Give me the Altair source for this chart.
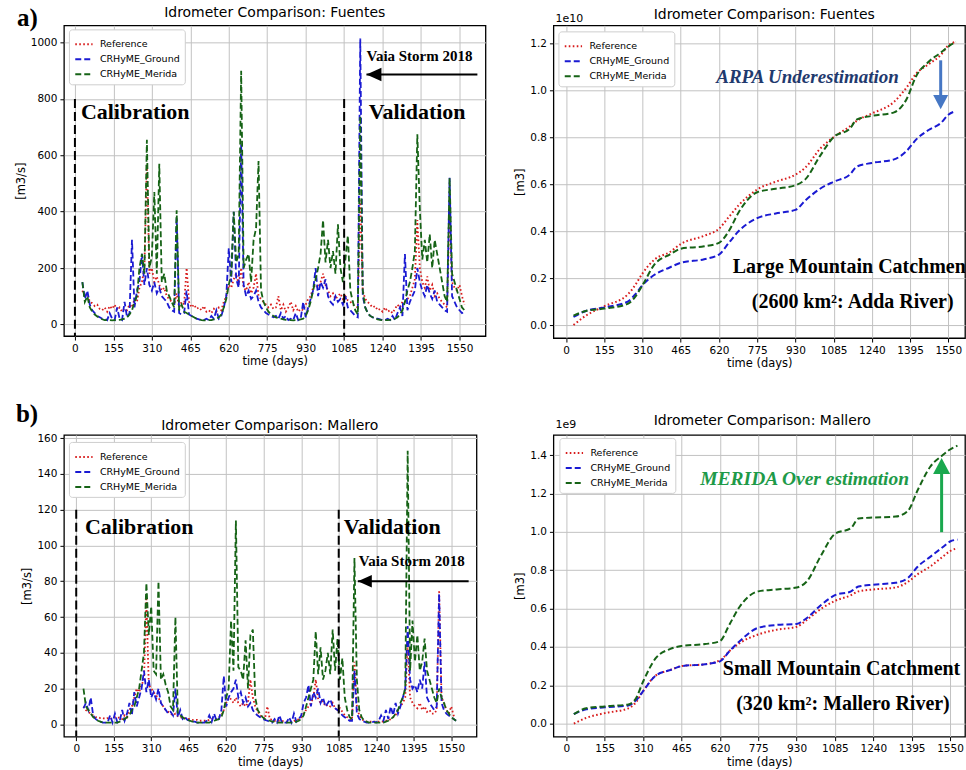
import altair as alt
import pandas as pd

# ---------------- data ----------------
SERIES = ["Reference", "CRHyME_Ground", "CRHyME_Merida"]
SERIES_COLORS = ["#d81c1c", "#1a1ad2", "#166316"]
SERIES_DASH = [[1.6, 2.4], [6, 3], [6, 3]]
X_TICKS = [0, 155, 310, 465, 620, 775, 930, 1085, 1240, 1395, 1550]

hydro_days = list(range(30, 1571, 10))

fuentes_ref = [
    120, 100, 110, 80, 75, 65, 70, 55, 50, 60,
    45, 65, 55, 70, 50, 60, 45, 55, 50, 70,
    60, 90, 80, 130, 150, 200, 570, 180, 200, 150,
    170, 140, 120, 130, 100, 90, 80, 70, 110, 60,
    80, 70, 200, 80, 60, 70, 55, 60, 50, 65,
    45, 50, 40, 55, 45, 60, 50, 80, 100, 140,
    130, 160, 180, 140, 200, 130, 120, 150, 110, 130,
    180, 100, 90, 80, 70, 60, 70, 55, 60, 100,
    50, 70, 45, 60, 80, 50, 65, 45, 55, 50,
    70, 90, 100, 130, 140, 130, 150, 180, 140, 120,
    100, 110, 90, 100, 110, 90, 100, 85, 80, 70,
    65, 60, 440, 120, 90, 80, 70, 60, 65, 50,
    55, 45, 60, 45, 50, 40, 55, 70, 60, 80,
    80, 90, 100, 130, 160, 370, 200, 150, 130, 170,
    120, 140, 100, 110, 90, 80, 70, 60, 420, 150,
    130, 120, 140, 100, 70,
]
fuentes_ground = [
    150, 90, 120, 70, 50, 40, 30, 25, 20, 20,
    15, 40, 20, 15, 60, 20, 15, 80, 25, 40,
    300, 60, 120, 150, 250, 140, 200, 140, 120, 150,
    110, 130, 100, 90, 80, 60, 50, 45, 380, 40,
    35, 40, 120, 35, 30, 25, 20, 18, 15, 15,
    20, 15, 30, 20, 50, 20, 30, 60, 100, 270,
    150, 400, 160, 130, 640, 140, 100, 120, 90, 100,
    120, 80, 60, 50, 40, 35, 30, 25, 30, 20,
    40, 20, 30, 15, 20, 15, 40, 15, 20, 80,
    25, 60, 90, 120, 200, 100, 150, 130, 160, 100,
    80, 70, 100, 80, 90, 70, 100, 60, 50, 40,
    30, 25, 1015, 100, 60, 40, 30, 25, 20, 20,
    18, 15, 15, 20, 15, 30, 15, 40, 60, 30,
    250, 50, 80, 100, 120, 200, 150, 120, 100, 140,
    110, 90, 120, 80, 70, 60, 50, 45, 520, 100,
    80, 60, 50, 40, 45,
]
fuentes_merida = [
    150, 80, 100, 60, 45, 35, 28, 22, 18, 15,
    15, 15, 14, 15, 15, 16, 18, 20, 25, 35,
    50, 80, 100, 200, 250, 180, 655, 200, 240, 470,
    180, 570, 150, 180, 120, 100, 80, 60, 405, 50,
    70, 45, 40, 35, 30, 25, 20, 18, 15, 14,
    14, 15, 15, 18, 20, 25, 35, 60, 90, 140,
    180, 400, 220, 250, 900, 200, 230, 250, 150, 300,
    340, 580, 120, 80, 60, 45, 35, 30, 25, 22,
    20, 18, 16, 15, 15, 14, 15, 16, 18, 20,
    30, 50, 80, 120, 160, 200, 250, 370, 220, 300,
    200, 260, 180, 355, 200, 150, 230, 315, 120, 80,
    50, 35, 740, 120, 60, 40, 30, 25, 20, 18,
    16, 15, 15, 15, 16, 18, 20, 25, 35, 50,
    80, 120, 150, 200, 260, 675, 410, 230, 300, 220,
    320, 200, 300, 250, 200, 150, 100, 80, 520, 180,
    150, 120, 90, 60, 50,
]

mallero_ref = [
    10, 8, 7, 6, 5, 4, 4, 3.5, 3.5, 3,
    3.5, 3, 3.5, 4, 3.5, 4, 3, 5, 4, 8,
    10, 15, 20, 18, 22, 25, 70, 22, 20, 18,
    16, 15, 12, 10, 8, 7, 6, 5, 6, 4.5,
    4, 3.5, 3.5, 3, 3, 2.5, 2.5, 2.5, 2, 2,
    2, 2, 2.5, 3, 3, 3, 4, 5, 8, 12,
    15, 14, 12, 15, 12, 10, 12, 10, 12, 25,
    15, 10, 7, 5, 4, 3, 10, 3, 2.5, 2,
    2, 2, 2, 1.5, 1.5, 1.5, 1.5, 2, 2, 3,
    4, 6, 8, 10, 12, 15, 25, 14, 12, 13,
    10, 11, 10, 12, 9, 8, 9, 7, 5, 4,
    3, 2.5, 35, 10, 5, 3, 2, 1.5, 1.5, 1.5,
    1.5, 1.5, 1.5, 1.5, 1.5, 2, 2, 3, 4, 5,
    8, 10, 12, 15, 45, 15, 12, 10, 9, 12,
    8, 10, 7, 8, 6, 6, 8, 75, 15, 12,
    8, 6, 10, 5, 4,
]
mallero_ground = [
    9, 12, 8, 15, 5, 3, 2, 1.5, 1, 1,
    1, 5, 1, 6, 1, 2, 8, 2, 6, 12,
    5, 18, 10, 15, 20, 30, 18, 25, 15, 18,
    14, 20, 12, 10, 8, 6, 7, 5, 20, 4,
    8, 3, 4, 2.5, 2, 1.5, 1.5, 1, 1, 1,
    1, 2, 5, 1.5, 6, 2, 3, 8, 27, 10,
    15, 18, 20, 25, 15, 18, 12, 15, 10, 12,
    8, 6, 5, 4, 3, 2.5, 2, 1.5, 1, 3,
    1, 5, 1, 1, 1, 4, 1, 6, 1.5, 3,
    5, 12, 15, 22, 10, 18, 15, 20, 12, 15,
    10, 12, 14, 10, 9, 8, 7, 5, 4, 3,
    2, 2, 30, 6, 3, 2, 1.5, 1, 1, 1,
    1.5, 1, 2, 5, 2, 8, 3, 10, 5, 12,
    6, 10, 15, 20, 55, 25, 20, 22, 18, 25,
    20, 35, 15, 12, 10, 8, 10, 73, 12, 8,
    6, 5, 4, 3, 2,
]
mallero_merida = [
    20, 10, 8, 6, 4, 3, 2, 1.5, 1, 1,
    1, 1, 1, 1, 1, 1.5, 2, 3, 4, 5,
    8, 10, 15, 20, 30, 40, 79, 50, 66, 30,
    28, 80, 25, 28, 22, 18, 10, 8, 60, 6,
    5, 4, 3, 2.5, 2, 1.5, 1.5, 1, 1, 1,
    1, 1, 1, 1.5, 2, 2.5, 3, 4, 8, 15,
    20, 58, 30, 114, 32, 30, 25, 47, 20, 50,
    53, 15, 8, 6, 4, 3, 2.5, 2, 1.5, 1.5,
    1, 1, 1, 1, 1, 1, 1, 1, 1.5, 2,
    3, 5, 10, 15, 20, 25, 52, 28, 43, 25,
    30, 40, 28, 53, 30, 48, 25, 37, 15, 8,
    4, 3, 93, 25, 8, 4, 2, 1.5, 1, 1,
    1, 1, 1, 1, 1, 1.5, 2, 3, 4, 6,
    8, 12, 15, 20, 153, 30, 58, 35, 50, 30,
    35, 48, 30, 25, 20, 15, 12, 20, 15, 12,
    8, 6, 4, 3, 2,
]

cum_days = [30, 80, 155, 250, 280, 310, 360, 420, 465, 560, 620, 660, 700, 775,
            850, 930, 970, 1030, 1085, 1150, 1180, 1240, 1330, 1380, 1420, 1470,
            1520, 1550, 1580]
# Fuentes cumulative volume, units of 1e10 m3
fuentes_cum_ref = [0.0, 0.04, 0.08, 0.13, 0.17, 0.22, 0.28, 0.31, 0.345, 0.38,
                   0.41, 0.46, 0.51, 0.577, 0.61, 0.64, 0.67, 0.75, 0.80, 0.845,
                   0.87, 0.90, 0.95, 1.01, 1.07, 1.11, 1.15, 1.19, 1.205]
fuentes_cum_ground = [0.035, 0.06, 0.075, 0.10, 0.13, 0.17, 0.215, 0.245, 0.265, 0.28,
                      0.30, 0.35, 0.40, 0.455, 0.475, 0.49, 0.53, 0.58, 0.61, 0.64,
                      0.675, 0.69, 0.705, 0.74, 0.79, 0.83, 0.86, 0.895, 0.91]
fuentes_cum_merida = [0.04, 0.06, 0.07, 0.09, 0.12, 0.17, 0.26, 0.30, 0.325, 0.335,
                      0.35, 0.40, 0.48, 0.565, 0.58, 0.595, 0.62, 0.72, 0.80, 0.835,
                      0.875, 0.89, 0.905, 0.96, 1.06, 1.12, 1.16, 1.185, 1.205]
# Mallero cumulative volume, units of 1e9 m3
mallero_cum_ref = [0.0, 0.03, 0.055, 0.08, 0.11, 0.17, 0.25, 0.28, 0.30, 0.31,
                   0.33, 0.38, 0.42, 0.465, 0.49, 0.505, 0.54, 0.60, 0.64, 0.67,
                   0.69, 0.70, 0.71, 0.74, 0.78, 0.82, 0.87, 0.90, 0.915]
mallero_cum_ground = [0.05, 0.075, 0.085, 0.095, 0.12, 0.17, 0.25, 0.28, 0.30, 0.31,
                      0.325, 0.38, 0.43, 0.50, 0.515, 0.52, 0.55, 0.62, 0.67, 0.69,
                      0.715, 0.725, 0.735, 0.76, 0.82, 0.87, 0.92, 0.95, 0.96]
mallero_cum_merida = [0.05, 0.08, 0.09, 0.10, 0.13, 0.22, 0.34, 0.39, 0.405, 0.415,
                      0.43, 0.52, 0.61, 0.69, 0.70, 0.71, 0.74, 0.88, 0.99, 1.02,
                      1.07, 1.075, 1.08, 1.11, 1.22, 1.34, 1.40, 1.43, 1.45]

FONT = "DejaVu Sans"
SERIF = "Liberation Serif"


def long_table(days, ref, ground, merida):
    rows = []
    for name, vals in zip(SERIES, (ref, ground, merida)):
        assert len(vals) == len(days), (name, len(vals), len(days))
        for d, v in zip(days, vals):
            rows.append({"day": d, "value": v, "series": name})
    return pd.DataFrame(rows)


def one_row(**kw):
    return pd.DataFrame({k: [v] for k, v in kw.items()})


class Ctx:
    def __init__(self, xs, ys, xa, ya, w, h):
        self.xs, self.ys, self.xa, self.ya, self.w, self.h = xs, ys, xa, ya, w, h

    def X(self, field):
        return alt.X(field, scale=self.xs, axis=self.xa)

    def Y(self, field):
        return alt.Y(field, scale=self.ys, axis=self.ya)


def make_panel(df, w, h, xdom, ydom, yticks, yfmt, ytitle, legxy, stroke_w,
               interp, title, title_xy, extra):
    xs = alt.Scale(domain=xdom, nice=False, zero=False)
    ys = alt.Scale(domain=ydom, nice=False, zero=False)
    xaxis = alt.Axis(values=X_TICKS, format="d", title="time (days)", labelOverlap=False,
                     labelFlush=False, titlePadding=2)
    yaxis = alt.Axis(values=yticks, format=yfmt, title=ytitle, labelOverlap=False,
                     labelFlush=False, titlePadding=4)
    ctx = Ctx(xs, ys, xaxis, yaxis, w, h)
    legend = alt.Legend(title=None, orient="none", legendX=legxy[0], legendY=legxy[1],
                        fillColor="white", strokeColor="#cfcfcf", padding=5,
                        cornerRadius=3, labelFont=FONT, labelFontSize=9.5,
                        labelColor="black", symbolType="stroke",
                        symbolStrokeWidth=2, symbolSize=300, rowPadding=0,
                        labelOffset=6, symbolOffset=0)
    layers = []
    for name in SERIES:
        layers.append(
            alt.Chart(df)
            .transform_filter(alt.datum.series == name)
            .mark_line(strokeWidth=stroke_w, interpolate=interp)
            .encode(
                x=ctx.X("day:Q"),
                y=ctx.Y("value:Q"),
                color=alt.Color("series:N", scale=alt.Scale(domain=SERIES, range=SERIES_COLORS),
                                legend=legend),
                strokeDash=alt.StrokeDash("series:N",
                                          scale=alt.Scale(domain=SERIES, range=SERIES_DASH),
                                          legend=legend),
            )
        )
    layers.append(
        alt.Chart(one_row(label=title))
        .mark_text(align="center", baseline="alphabetic", font=FONT, fontSize=14,
                   color="black")
        .encode(x=alt.value(title_xy[0]), y=alt.value(title_xy[1]), text="label:N")
    )
    for maker in extra:
        layers.append(maker(ctx))
    return alt.layer(*layers).properties(width=w, height=h)


# ---------- annotation helpers ----------
def vlines(days, top):
    def f(c):
        d = pd.DataFrame({"day": days, "value": [top] * len(days)})
        return alt.Chart(d).mark_rule(color="black", strokeWidth=2, strokeDash=[9, 4]).encode(
            x=c.X("day:Q"), y=c.Y("value:Q"), y2=alt.value(c.h))
    return f


def texts(day_list, value_list, labels, size, color="black", italic=False, clip=False):
    def f(c):
        d = pd.DataFrame({"day": day_list, "value": value_list, "label": labels})
        return alt.Chart(d).mark_text(
            align="left", baseline="alphabetic", font=SERIF, fontWeight="bold",
            fontStyle="italic" if italic else "normal", fontSize=size, color=color,
            clip=clip,
        ).encode(x=c.X("day:Q"), y=c.Y("value:Q"), text="label:N")
    return f


def pixel_text(label, px, py, size, font, weight="normal"):
    def f(c):
        return alt.Chart(one_row(label=label)).mark_text(
            align="left", baseline="alphabetic", font=font, fontWeight=weight,
            fontSize=size, color="black",
        ).encode(x=alt.value(px), y=alt.value(py), text="label:N")
    return f


def h_arrow(x_from, x_tip, yv, head_size, color="black"):
    def f(c):
        d = pd.DataFrame({"day": [x_from], "day2": [x_tip], "value": [yv]})
        shaft = alt.Chart(d).mark_rule(color=color, strokeWidth=2).encode(
            x=c.X("day:Q"), x2="day2:Q", y=c.Y("value:Q"))
        head = alt.Chart(d).mark_point(
            shape="M 0 0 L 2 -0.9 L 2 0.9 Z", filled=True, size=head_size,
            color=color, opacity=1, strokeWidth=0,
        ).encode(x=c.X("day2:Q"), y=c.Y("value:Q"))
        return alt.layer(shaft, head)
    return f


def v_arrow(xv, y_from, y_base, y_tip, head_size, color, up):
    def f(c):
        d = pd.DataFrame({"day": [xv], "value": [y_from], "value2": [y_base], "tip": [y_tip]})
        shaft = alt.Chart(d).mark_rule(color=color, strokeWidth=3).encode(
            x=c.X("day:Q"), y=c.Y("value:Q"), y2="value2:Q")
        path = "M 0 0 L -1 1.9 L 1 1.9 Z" if up else "M 0 0 L -1 -1.9 L 1 -1.9 Z"
        head = alt.Chart(d).mark_point(
            shape=path, filled=True, size=head_size, color=color, opacity=1, strokeWidth=0,
        ).encode(x=c.X("day:Q"), y=c.Y("tip:Q"))
        return alt.layer(shaft, head)
    return f


def anchor(px, py, py2):
    # invisible mark that fixes the outer extent of a row of panels
    def f(c):
        return alt.Chart(one_row(label="")).mark_rule(strokeOpacity=0, opacity=0).encode(
            x=alt.value(px), y=alt.value(py), y2=alt.value(py2))
    return f


# ---------- panels ----------
H_A, H_B, H_C, H_D = 311, 313, 302, 302
BOTTOM_PAD = 45
TOP_PAD_ROW2 = 50

panel_a = make_panel(
    long_table(hydro_days, fuentes_ref, fuentes_ground, fuentes_merida),
    422, H_A, [-44.3, 1654.7], [-41.5, 1061.3], [0, 200, 400, 600, 800, 1000], "d",
    "[m3/s]", (5, 4), 1.8, "linear", "Idrometer Comparison: Fuentes", (211, -8),
    [
        anchor(-63, -24, H_A + BOTTOM_PAD),
        vlines([0, 1085], 800),
        texts([24, 1184], [728, 728], ["Calibration", "Validation"], 22),
        texts([1175], [934], ["Vaia Storm 2018"], 15),
        h_arrow(1622, 1175, 887, 225),
        pixel_text("a)", -47, 1, 25, SERIF, "bold"),
    ],
)

panel_b = make_panel(
    long_table(cum_days, fuentes_cum_ref, fuentes_cum_ground, fuentes_cum_merida),
    412, H_B, [-51.4, 1617.6], [-0.0553, 1.2752], [0, 0.2, 0.4, 0.6, 0.8, 1.0, 1.2], ".1f",
    "[m3]", (5, 6), 2, "monotone", "Idrometer Comparison: Fuentes", (211, -6),
    [
        pixel_text("1e10", 2, -3, 11, FONT),
        texts([609], [1.03], ["ARPA Underestimation"], 19, color="#1f3a6e", italic=True),
        v_arrow(1519, 1.1265, 0.976, 0.918, 225, "#4677c4", False),
        texts([676, 753], [0.221, 0.0735],
              ["Large Mountain Catchment", "(2600 km\u00b2: Adda River)"], 20, clip=True),
    ],
)

panel_c = make_panel(
    long_table(hydro_days, mallero_ref, mallero_ground, mallero_merida),
    413, H_C, [-50.8, 1654.5], [-6.87, 161.8], [0, 20, 40, 60, 80, 100, 120, 140, 160], "d",
    "[m3/s]", (5, 7), 1.8, "linear", "Idrometer Comparison: Mallero", (206, -5),
    [
        anchor(-63, -TOP_PAD_ROW2, -TOP_PAD_ROW2 + 1),
        vlines([0, 1085], 120),
        texts([36, 1106], [106.5, 106.5], ["Calibration", "Validation"], 22),
        texts([1168], [88.8], ["Vaia Storm 2018"], 15),
        h_arrow(1622, 1164, 80, 196),
        pixel_text("b)", -48, -13, 25, SERIF, "bold"),
    ],
)

panel_d = make_panel(
    long_table(cum_days, mallero_cum_ref, mallero_cum_ground, mallero_cum_merida),
    412, H_D, [-52.5, 1610.5], [-0.0677, 1.5058], [0, 0.2, 0.4, 0.6, 0.8, 1.0, 1.2, 1.4],
    ".1f", "[m3]", (6, 3), 2, "monotone", "Idrometer Comparison: Mallero", (209, -10),
    [
        pixel_text("1e9", 2, -7, 11, FONT),
        texts([541], [1.247], ["MERIDA Over estimation"], 19.5, color="#1e9a48", italic=True),
        v_arrow(1516, 0.9988, 1.3025, 1.386, 289, "#1aa84e", True),
        texts([632, 686], [0.2517, 0.0714],
              ["Small Mountain Catchment", "(320 km\u00b2: Mallero River)"], 20, clip=True),
    ],
)

IND = dict(color="independent", strokeDash="independent", x="independent", y="independent")

row1 = alt.hconcat(panel_a, panel_b, spacing=68, bounds="flush").resolve_scale(**IND)
row2 = alt.hconcat(panel_c, panel_d, spacing=77, bounds="flush").resolve_scale(**IND)

# row 2 plot top should sit at y=432; row 1 outer bottom is at 24 + H_A + BOTTOM_PAD
ROW_GAP = 432 - TOP_PAD_ROW2 - (24 + H_A + BOTTOM_PAD)

chart = (
    alt.vconcat(row1, row2, spacing=ROW_GAP)
    .resolve_scale(**IND)
    .properties(padding=0, background="white")
    .configure_view(stroke="black", strokeWidth=1.3)
    .configure_axis(
        labelFont=FONT, labelFontSize=10.5, labelColor="black",
        titleFont=FONT, titleFontSize=11.5, titleFontWeight="normal", titleColor="black",
        tickColor="black", tickSize=4, tickWidth=1, domain=False,
        grid=True, gridColor="#c2c2c2", gridWidth=1, labelPadding=3,
    )
)

chart.save("out.html", embed_options={"renderer": "svg", "actions": False})
